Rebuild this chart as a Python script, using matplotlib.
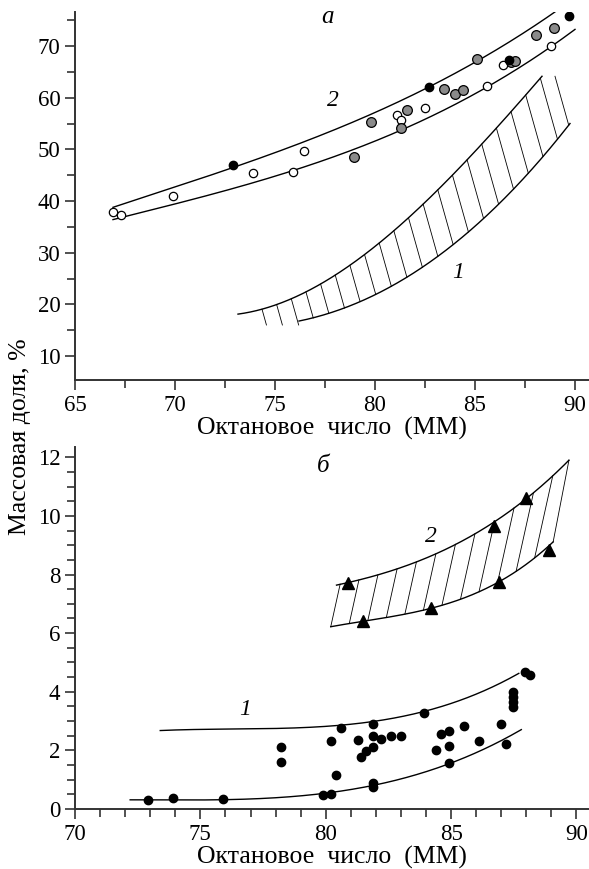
import numpy as np
import matplotlib
matplotlib.use("Agg")
import matplotlib.pyplot as plt
from matplotlib.ticker import MultipleLocator

plt.rcParams['font.family'] = ['Liberation Serif', 'DejaVu Serif']

# ---- panel a: band 2 (two envelope lines) ----
a2_up_x = [66.9, 69.9, 72.9, 76.45, 79.8, 82.7, 85.1, 87.25, 89.25]
a2_up_y = [38.8, 42.3, 47.0, 51.5, 56.3, 61.9, 67.5, 72.4, 77.0]
a2_lo_x = [66.9, 69.9, 72.9, 75.9, 78.95, 81.3, 85.6, 88.8, 90.0]
a2_lo_y = [36.3, 39.4, 42.8, 45.7, 49.4, 54.2, 62.1, 70.0, 73.1]

# panel a: band 1 (hatched)
a1_up_x = [73.15, 75.9, 78.1, 79.75, 81.1, 82.6, 83.6, 86.1, 88.35]
a1_up_y = [18.1, 21.2, 26.1, 30.1, 34.8, 40.2, 44.1, 54.1, 64.2]
a1_lo_x = [76.2, 78.6, 80.9, 83.25, 84.9, 86.3, 88.25, 89.75]
a1_lo_y = [16.8, 19.5, 23.4, 29.9, 34.7, 40.2, 47.3, 55.3]

# panel a: points
a_open_x = [66.9, 67.3, 69.9, 73.9, 75.9, 76.45, 81.1, 81.3, 82.5, 85.6, 86.4, 88.8]
a_open_y = [37.9, 37.2, 40.9, 45.5, 45.7, 49.7, 56.6, 55.7, 58.1, 62.2, 66.3, 70.0]
a_gray_x = [78.95, 79.8, 81.3, 81.6, 83.45, 84.0, 84.4, 85.1, 86.8, 87.0, 88.05, 88.97]
a_gray_y = [48.6, 55.3, 54.2, 57.7, 61.6, 60.8, 61.5, 67.5, 67.0, 67.2, 72.1, 73.5]
a_black_x = [72.9, 82.7, 86.7, 89.7]
a_black_y = [47.0, 62.0, 67.4, 75.8]

# ---- panel b: band 2 (hatched) ----
b2_up_x = [80.43, 80.8, 82.7, 84.4, 86.6, 87.9, 89.7]
b2_up_y = [7.60, 7.75, 8.15, 8.72, 9.65, 10.6, 11.88]
b2_lo_x = [80.2, 81.4, 84.1, 86.76, 88.8, 89.07]
b2_lo_y = [6.22, 6.39, 6.82, 7.70, 8.83, 9.17]
b_tri_x = [80.9, 81.5, 84.2, 86.7, 86.9, 88.0, 88.9]
b_tri_y = [7.7, 6.4, 6.85, 9.65, 7.75, 10.6, 8.85]

# panel b: band 1 (two lines) and points
b1_up_x = [73.4, 74.0, 80.5, 81.8, 83.8, 86.0, 87.1, 87.7]
b1_up_y = [2.69, 2.68, 2.86, 2.98, 3.28, 3.94, 4.34, 4.63]
b1_lo_x = [72.2, 75.85, 80.1, 81.8, 84.8, 87.05, 87.8]
b1_lo_y = [0.31, 0.33, 0.51, 0.81, 1.56, 2.24, 2.78]
b_dot_x = [72.9, 73.9, 75.9, 79.9, 80.2, 80.4, 80.6, 80.2, 78.2, 78.2, 81.3, 81.4,
           81.6, 81.9, 81.9, 81.9, 82.2, 81.9, 81.9, 82.6, 83.0, 83.9, 84.4, 84.6,
           84.9, 84.9, 84.9, 85.5, 86.1, 87.0, 87.2, 87.45, 87.45, 87.45, 87.45,
           87.95, 88.15]
b_dot_y = [0.30, 0.39, 0.33, 0.47, 0.51, 1.17, 2.76, 2.31, 2.12, 1.61, 2.34, 1.78,
           1.99, 2.11, 2.49, 2.91, 2.40, 0.88, 0.74, 2.49, 2.49, 3.28, 2.01, 2.56,
           2.67, 2.15, 1.56, 2.83, 2.31, 2.90, 2.23, 4.0, 3.83, 3.66, 3.49,
           4.68, 4.57]


def smooth(x, y, deg=3):
    # smooth curve through the points
    p = np.polyfit(x, y, deg)
    xs = np.linspace(x[0], x[-1], 300)
    return xs, np.polyval(p, xs)


def hatch(ax, from_x, from_y, to_x, to_y, starts, slope, stop_y=None):
    # slanted hatch lines from one boundary until they meet the other one
    tol = abs(slope) * 0.01
    for x0 in starts:
        y0 = np.interp(x0, from_x, from_y)
        xs = np.linspace(x0, x0 + 2.0, 800)
        line = y0 + slope * (xs - x0)
        other = np.interp(xs, to_x, to_y, left=np.nan, right=np.nan)
        diff = np.abs(line - other)
        if slope < 0:
            hit = np.where((line <= other) & (diff < tol))[0]
        else:
            hit = np.where((line >= other) & (diff < tol))[0]
        if len(hit):
            x1, y1 = xs[hit[0]], line[hit[0]]
        elif stop_y is not None:
            x1 = x0 + (stop_y - y0) / slope
            y1 = stop_y
        else:
            x1, y1 = to_x[-1], to_y[-1]
        ax.plot([x0, x1], [y0, y1], color='black', lw=0.6)


def style(ax):
    for s in ['top', 'right']:
        ax.spines[s].set_visible(False)
    for s in ['left', 'bottom']:
        ax.spines[s].set_linewidth(1.4)
        ax.spines[s].set_color('#333333')
    ax.tick_params(which='both', direction='out', width=1.2, colors='#333333',
                   labelcolor='black', labelsize=16.5)
    ax.tick_params(which='major', length=7)
    ax.tick_params(which='minor', length=6)


fig = plt.figure(figsize=(5.89, 8.69), dpi=100)

# ---------------- panel a ----------------
ax1 = fig.add_axes([75 / 589, 1 - 380 / 869, 514 / 589, 368 / 869])
for cx, cy in [(a2_up_x, a2_up_y), (a2_lo_x, a2_lo_y)]:
    ax1.plot(*smooth(cx, cy, 3), color='black', lw=1.0)
a1u = smooth(a1_up_x, a1_up_y, 3)
a1l = smooth(a1_lo_x, a1_lo_y, 3)
ax1.plot(*a1u, color='black', lw=1.0)
ax1.plot(*a1l, color='black', lw=1.0)
hatch(ax1, a1u[0], a1u[1], a1l[0], a1l[1],
      np.linspace(74.35, 89.0, 21), -13.8, stop_y=16.0)
ax1.plot(a_open_x, a_open_y, 'o', ms=6, mfc='white', mec='black', mew=0.9)
ax1.plot(a_gray_x, a_gray_y, 'o', ms=7, mfc='#8a8a8a', mec='black', mew=0.9)
ax1.plot(a_black_x, a_black_y, 'o', ms=6, mfc='black', mec='black')
ax1.text(77.65, 75.6, 'а', fontsize=18, style='italic', ha='center', va='center')
ax1.text(77.9, 59.5, '2', fontsize=17, style='italic', ha='center', va='center')
ax1.text(84.15, 26.1, '1', fontsize=17, style='italic', ha='center', va='center')
ax1.set_xlim(65, 90.7)
ax1.set_ylim(5.35, 76.6)
ax1.xaxis.set_major_locator(MultipleLocator(5))
ax1.xaxis.set_minor_locator(MultipleLocator(2.5))
ax1.yaxis.set_major_locator(MultipleLocator(10))
ax1.yaxis.set_minor_locator(MultipleLocator(5))
style(ax1)
ax1.set_xlabel('Октановое  число  (ММ)', fontsize=18.5, labelpad=1)

# ---------------- panel b ----------------
ax2 = fig.add_axes([75 / 589, 1 - 809 / 869, 514 / 589, 362 / 869])
b2u = smooth(b2_up_x, b2_up_y, 3)
b2l = smooth(b2_lo_x, b2_lo_y, 3)
ax2.plot(*b2u, color='black', lw=1.0)
ax2.plot(*b2l, color='black', lw=1.0)
hatch(ax2, b2l[0], b2l[1], b2u[0], b2u[1],
      np.linspace(80.2, 89.07, 13), 3.87)
ax2.plot(*smooth(b1_up_x, b1_up_y, 3), color='black', lw=1.0)
ax2.plot(*smooth(b1_lo_x, b1_lo_y, 3), color='black', lw=1.0)
ax2.plot(b_tri_x, b_tri_y, '^', ms=8, color='black')
ax2.plot(b_dot_x, b_dot_y, 'o', ms=6, color='black')
ax2.text(79.9, 11.7, 'б', fontsize=18, style='italic', ha='center', va='center')
ax2.text(84.2, 9.3, '2', fontsize=17, style='italic', ha='center', va='center')
ax2.text(76.8, 3.4, '1', fontsize=17, style='italic', ha='center', va='center')
ax2.set_xlim(70, 90.5)
ax2.set_ylim(0, 12.35)
ax2.xaxis.set_major_locator(MultipleLocator(5))
ax2.xaxis.set_minor_locator(MultipleLocator(1))
ax2.yaxis.set_major_locator(MultipleLocator(2))
ax2.yaxis.set_minor_locator(MultipleLocator(0.5))
style(ax2)
ax2.set_xlabel('Октановое  число  (ММ)', fontsize=18.5, labelpad=1)

fig.text(20 / 589, 1 - 437 / 869, 'Массовая доля, %', rotation=90,
         fontsize=18.5, ha='center', va='center')

fig.savefig('out.png', dpi=100)
